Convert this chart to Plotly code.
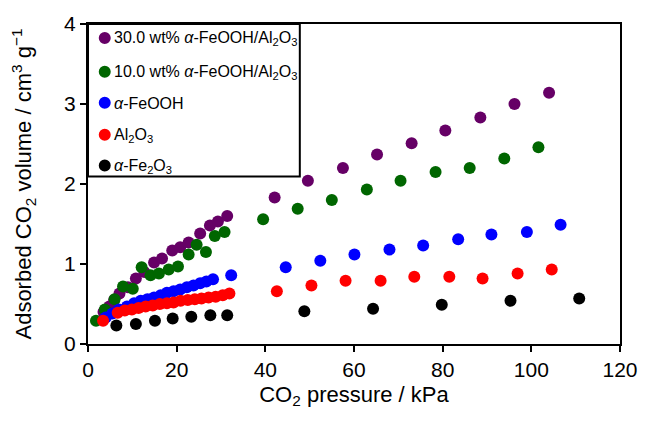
import plotly.graph_objects as go

# ---- data ----
p30_x = [3.5, 4.8, 5.9, 7.1, 9.0, 10.8, 12.7, 14.9, 16.7, 19.0, 20.8, 22.7, 25.3, 27.5, 29.3, 31.4,
         42.1, 49.6, 57.5, 65.2, 73.0, 80.6, 88.5, 96.2, 104.0]
p30_y = [0.40, 0.47, 0.55, 0.63, 0.71, 0.82, 0.90, 1.02, 1.07, 1.17, 1.21, 1.27, 1.38, 1.48, 1.53, 1.60,
         1.83, 2.04, 2.20, 2.37, 2.51, 2.67, 2.83, 3.00, 3.14]

p10_x = [1.8, 3.8, 6.0, 7.9, 10.1, 12.1, 14.1, 16.0, 18.2, 20.3, 22.7, 24.5, 26.6, 28.6, 30.8,
         39.5, 47.3, 55.0, 62.9, 70.5, 78.4, 86.1, 93.9, 101.6]
p10_y = [0.29, 0.43, 0.56, 0.72, 0.69, 0.96, 0.86, 0.88, 0.93, 0.97, 1.12, 1.24, 1.15, 1.35, 1.40,
         1.56, 1.69, 1.80, 1.93, 2.04, 2.15, 2.20, 2.32, 2.46]

feooh_x = [4.0, 5.5, 7.0, 8.8, 10.4, 11.9, 13.4, 14.9, 16.4, 17.8, 19.3, 20.8, 22.3, 23.8, 25.3, 26.7, 28.2, 32.3,
           44.6, 52.4, 60.1, 68.0, 75.6, 83.5, 91.0, 99.0, 106.6]
feooh_y = [0.33, 0.38, 0.43, 0.47, 0.51, 0.54, 0.56, 0.58, 0.61, 0.64, 0.66, 0.68, 0.71, 0.73, 0.76, 0.78, 0.81, 0.86,
           0.96, 1.04, 1.12, 1.18, 1.23, 1.31, 1.37, 1.40, 1.49]

al_x = [3.4, 6.7, 8.3, 9.9, 11.4, 13.0, 14.6, 16.2, 17.8, 19.3, 20.9, 22.5, 24.1, 25.6, 27.2, 28.8, 30.4, 31.9,
        42.6, 50.4, 58.1, 66.0, 73.6, 81.5, 89.0, 96.9, 104.6]
al_y = [0.29, 0.39, 0.42, 0.43, 0.45, 0.47, 0.48, 0.50, 0.51, 0.52, 0.54, 0.55, 0.56, 0.57, 0.58, 0.59, 0.61, 0.63,
        0.66, 0.73, 0.79, 0.79, 0.84, 0.84, 0.82, 0.88, 0.93]

fe2o3_x = [6.4, 10.8, 15.1, 19.1, 23.3, 27.6, 31.4, 48.8, 64.3, 79.8, 95.3, 110.8]
fe2o3_y = [0.23, 0.25, 0.29, 0.32, 0.34, 0.36, 0.36, 0.41, 0.44, 0.49, 0.54, 0.57]

names = ["30.0 wt% <i>α</i>-FeOOH/Al<sub>2</sub>O<sub>3</sub>",
         "10.0 wt% <i>α</i>-FeOOH/Al<sub>2</sub>O<sub>3</sub>",
         "<i>α</i>-FeOOH",
         "Al<sub>2</sub>O<sub>3</sub>",
         "<i>α</i>-Fe<sub>2</sub>O<sub>3</sub>"]
colors = ["#660066", "#006600", "#0000FF", "#FF0000", "#000000"]
series = [(p30_x, p30_y), (p10_x, p10_y), (feooh_x, feooh_y), (al_x, al_y), (fe2o3_x, fe2o3_y)]

FONT = "Arial, Liberation Sans, sans-serif"
W, H = 650, 422
ML, MR, MT, MB = 88, 22, 23, 78
PW, PH = W - ML - MR, H - MT - MB

def px_to_paper_x(px):
    return (px - ML) / PW

def px_to_paper_y(py):
    return (H - MB - py) / PH

fig = go.Figure()
for (xs, ys), nm, c in zip(series, names, colors):
    fig.add_trace(go.Scatter(x=xs, y=ys, mode="markers", name=nm,
                             marker=dict(size=12, color=c, line=dict(width=0))))

axis_common = dict(showline=True, linecolor="black", linewidth=2, mirror=True,
                   ticks="outside", ticklen=6, tickwidth=2, tickcolor="black",
                   showgrid=False, zeroline=False,
                   tickfont=dict(family=FONT, size=21, color="black"))

fig.update_xaxes(range=[0, 120], dtick=20, tick0=0,
                 title=dict(text="CO<sub>2</sub> pressure / kPa", font=dict(family=FONT, size=22, color="black"),
                            standoff=6),
                 **axis_common)
fig.update_yaxes(range=[0, 4], dtick=1, tick0=0,
                 title=dict(text="Adsorbed CO<sub>2</sub> volume / cm<sup>3</sup> g<sup>−1</sup>",
                            font=dict(family=FONT, size=22, color="black"), standoff=26),
                 **axis_common)

# ---- legend box drawn as in the reference (framed, top-left inside the plot) ----
legend_rows_px = [37, 71, 102, 134, 165]
shapes = [dict(type="rect", xref="paper", yref="paper",
               x0=px_to_paper_x(88), x1=px_to_paper_x(303),
               y0=px_to_paper_y(176), y1=1.0,
               line=dict(color="black", width=2), fillcolor="white", layer="below")]
annotations = []
for nm, c, ry in zip(names, colors, legend_rows_px):
    shapes.append(dict(type="circle", xref="paper", yref="paper",
                       xsizemode="pixel", ysizemode="pixel",
                       xanchor=px_to_paper_x(105), yanchor=px_to_paper_y(ry),
                       x0=-6, x1=6, y0=-6, y1=6,
                       fillcolor=c, line=dict(width=0), layer="above"))
    annotations.append(dict(xref="paper", yref="paper", x=px_to_paper_x(112), y=px_to_paper_y(ry + 1),
                            xanchor="left", yanchor="middle", text=nm, showarrow=False,
                            font=dict(family=FONT, size=16, color="black")))

fig.update_layout(
    width=W, height=H,
    margin=dict(l=ML, r=MR, t=MT, b=MB),
    plot_bgcolor="white", paper_bgcolor="white",
    font=dict(family=FONT, color="black"),
    showlegend=False,
    shapes=shapes,
    annotations=annotations,
)

fig.write_html("out.html", config={"displayModeBar": False},
               post_script="document.body.style.margin='0px';")
